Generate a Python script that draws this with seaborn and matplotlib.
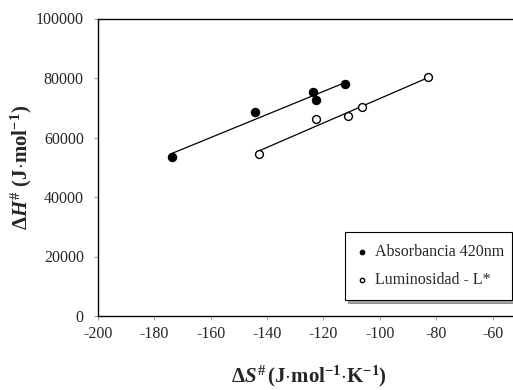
import numpy as np
import pandas as pd
import matplotlib
matplotlib.use('Agg')
import matplotlib.pyplot as plt
import seaborn as sns

# datos
abs_ds = [-173.8, -144.3, -123.7, -122.7, -112.2]
abs_dh = [53400, 68600, 75200, 72500, 78000]
lum_ds = [-142.9, -122.8, -111.2, -106.3, -83.1]
lum_dh = [54600, 66300, 67100, 70100, 80200]

series_labels = ['Absorbancia 420nm', 'Luminosidad - L*']
x_ticks = [-200, -180, -160, -140, -120, -100, -80, -60]
y_ticks = [0, 20000, 40000, 60000, 80000, 100000]

sns.set_style('white')
plt.rcParams['font.family'] = ['Liberation Serif', 'DejaVu Serif']
plt.rcParams['axes.unicode_minus'] = False
plt.rcParams['mathtext.fontset'] = 'custom'
plt.rcParams['mathtext.rm'] = 'Liberation Serif:bold'
plt.rcParams['mathtext.bf'] = 'Liberation Serif:bold'
plt.rcParams['mathtext.it'] = 'Liberation Serif:italic:bold'

df_abs = pd.DataFrame({'ds': abs_ds, 'dh': abs_dh})
df_lum = pd.DataFrame({'ds': lum_ds, 'dh': lum_dh})

fig = plt.figure(figsize=(5.13, 3.9), dpi=100)
# el eje derecho queda fuera de la imagen (recortado)
ax = fig.add_axes([97.7 / 513, 74 / 390, (521 - 97.7) / 513, (316 - 18.5) / 390])

sns.regplot(data=df_abs, x='ds', y='dh', ax=ax, ci=None, label=series_labels[0],
            scatter_kws=dict(s=36, color='black', edgecolors='black', linewidths=0.8,
                             alpha=1, zorder=3),
            line_kws=dict(color='black', lw=0.9))
sns.regplot(data=df_lum, x='ds', y='dh', ax=ax, ci=None, label=series_labels[1],
            scatter_kws=dict(s=32, facecolors='white', edgecolors='black', linewidths=1.0,
                             alpha=1, zorder=3),
            line_kws=dict(color='black', lw=0.9))

ax.set_xlim(-200, -50)
ax.set_ylim(0, 100000)
ax.set_xticks(x_ticks)
ax.set_yticks(y_ticks)
ax.tick_params(axis='both', direction='out', length=3, width=0.6, color='#888888',
               labelsize=11.5, bottom=True, left=True)
ax.tick_params(axis='y', pad=7)
ax.tick_params(axis='x', pad=4)
for s in ax.spines.values():
    s.set_color('black')
    s.set_linewidth(1.0)

ax.set_xlabel(r'$\Delta S^{\#}\,(\mathrm{J{\cdot}mol^{-1}{\cdot}K^{-1}})$', fontsize=15, labelpad=16)
ax.set_ylabel(r'$\Delta H^{\#}\ (\mathrm{J{\cdot}mol^{-1}})$', fontsize=15, labelpad=1)

leg = ax.legend(loc='lower left', bbox_to_anchor=(345 / 513, 90 / 390, 167 / 513, 65 / 390),
                bbox_transform=fig.transFigure, mode='expand', borderaxespad=0,
                fontsize=11.5, frameon=True, fancybox=False, shadow=True,
                markerscale=0.55, handlelength=0.6, handletextpad=0.5,
                labelspacing=0.75, borderpad=0.75)
leg.get_frame().set_edgecolor('black')
leg.get_frame().set_linewidth(0.8)

fig.savefig('out.png', dpi=100)
